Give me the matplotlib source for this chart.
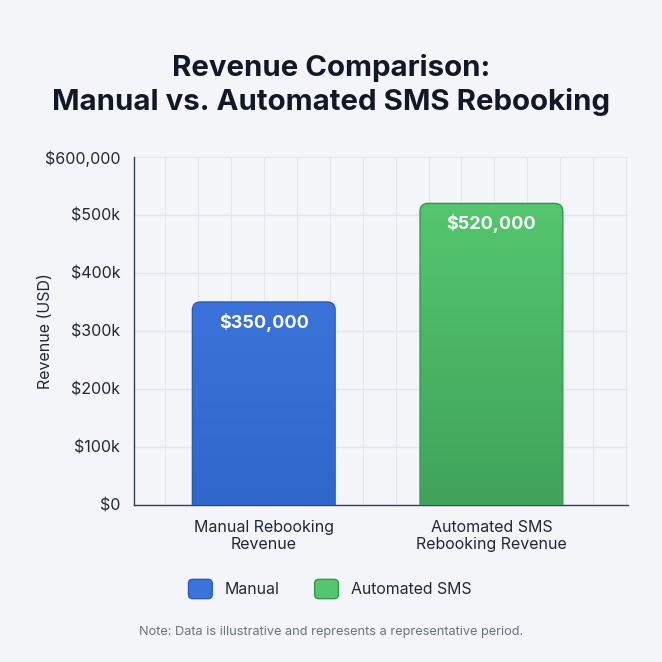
import matplotlib
matplotlib.use("Agg")
import matplotlib.pyplot as plt
import numpy as np
from matplotlib.patches import FancyBboxPatch, Patch
from matplotlib.legend_handler import HandlerPatch
from matplotlib.colors import LinearSegmentedColormap

plt.rcParams['font.family'] = ['Inter', 'DejaVu Sans']

categories = ["Manual Rebooking\nRevenue", "Automated SMS\nRebooking Revenue"]
values = [350000, 520000]
value_labels = ["$350,000", "$520,000"]
legend_labels = ["Manual", "Automated SMS"]
yticks = [0, 100000, 200000, 300000, 400000, 500000, 600000]
ytick_labels = ["$0", "$100k", "$200k", "$300k", "$400k", "$500k", "$600,000"]

bg = "#f3f5f9"
top_colors = ["#3b73da", "#54c66f"]
bot_colors = ["#3067cb", "#3fa35a"]
edge_colors = ["#2a5bb8", "#379650"]

fig = plt.figure(figsize=(6.62, 6.62), dpi=100, facecolor=bg)
ax = fig.add_axes([134/662, 1-505/662, (628-134)/662, (505-157)/662])
ax.set_facecolor(bg)

x = np.arange(len(categories))
bw = 0.627
bars = ax.bar(x, values, width=bw, color="none", edgecolor="none", zorder=3)
ax.set_xlim(-0.57, 1.60)
ax.set_ylim(0, 600000)

# faint decorative vertical grid
for xv in np.arange(-0.57 + 31/228, 1.60, 33/228):
    ax.axvline(xv, color="#e4e8ee", lw=0.8, zorder=0)
ax.set_yticks(yticks)
ax.set_yticklabels(ytick_labels)
ax.yaxis.grid(True, color="#e2e6ec", lw=1.0, zorder=0.5)
ax.set_axisbelow(True)

# pixel scales
x_per_px = (1.60 + 0.57) / 494
y_per_px = 600000 / 348
aspect = y_per_px / x_per_px

for i, r in enumerate(bars):
    x0, w, h = r.get_x(), r.get_width(), r.get_height()
    ext = 20 * y_per_px
    patch = FancyBboxPatch((x0, -ext), w, h + ext,
                           boxstyle=f"round,pad=0,rounding_size={8*x_per_px}",
                           mutation_aspect=aspect,
                           facecolor="none", edgecolor=edge_colors[i], lw=1.0, zorder=4)
    ax.add_patch(patch)
    cmap = LinearSegmentedColormap.from_list("g", [bot_colors[i], top_colors[i]])
    grad = np.linspace(0, 1, 256).reshape(-1, 1)
    im = ax.imshow(grad, cmap=cmap, origin="lower", aspect="auto",
                   extent=(x0, x0 + w, 0, h), zorder=3.5)
    im.set_clip_path(patch)
    ax.text(x[i], h - 20 * y_per_px, value_labels[i], ha="center", va="center",
            color="white", fontsize=13, fontweight="bold", zorder=5)

ax.set_xlim(-0.57, 1.60)
ax.set_ylim(0, 600000)
ax.set_xticks(x)
ax.set_xticklabels(categories, fontsize=11.6, color="#1f2937", linespacing=1.15)
ax.tick_params(axis="both", length=0, labelsize=11.5, colors="#1f2937")
ax.tick_params(axis="y", pad=10)
ax.tick_params(axis="x", pad=11)
for s in ["top", "right"]:
    ax.spines[s].set_visible(False)
for s in ["left", "bottom"]:
    ax.spines[s].set_color("#374151")
    ax.spines[s].set_linewidth(1.0)
ax.set_ylabel("Revenue (USD)", fontsize=11.5, color="#1f2937")
ax.yaxis.set_label_coords((53 - 134) / 494, 0.5)

fig.text(0.5, 1 - 85/662, "Revenue Comparison:\nManual vs. Automated SMS Rebooking",
         ha="center", va="center", fontsize=21.2, fontweight="bold", color="#111827",
         linespacing=1.28)


class RoundHandler(HandlerPatch):
    def create_artists(self, legend, orig_handle, xdescent, ydescent, width, height, fontsize, trans):
        p = FancyBboxPatch((-xdescent, -ydescent), width, height,
                           boxstyle="round,pad=0,rounding_size=3",
                           facecolor=orig_handle.get_facecolor(),
                           edgecolor=orig_handle.get_edgecolor(), lw=1.0, transform=trans)
        return [p]


handles = [Patch(facecolor=top_colors[i], edgecolor=edge_colors[i]) for i in range(2)]
leg = fig.legend(handles, legend_labels, loc="center", bbox_to_anchor=(330/662, 1 - 589/662),
                 ncol=2, frameon=False, fontsize=11.4, handlelength=1.5, handleheight=1.5,
                 handletextpad=0.8, columnspacing=2.2,
                 handler_map={Patch: RoundHandler()})
for t in leg.get_texts():
    t.set_color("#1f2937")

fig.text(0.5, 1 - 632/662, "Note: Data is illustrative and represents a representative period.",
         ha="center", va="center", fontsize=9.2, color="#6b7280")

fig.savefig("out.png", dpi=100, facecolor=bg)
